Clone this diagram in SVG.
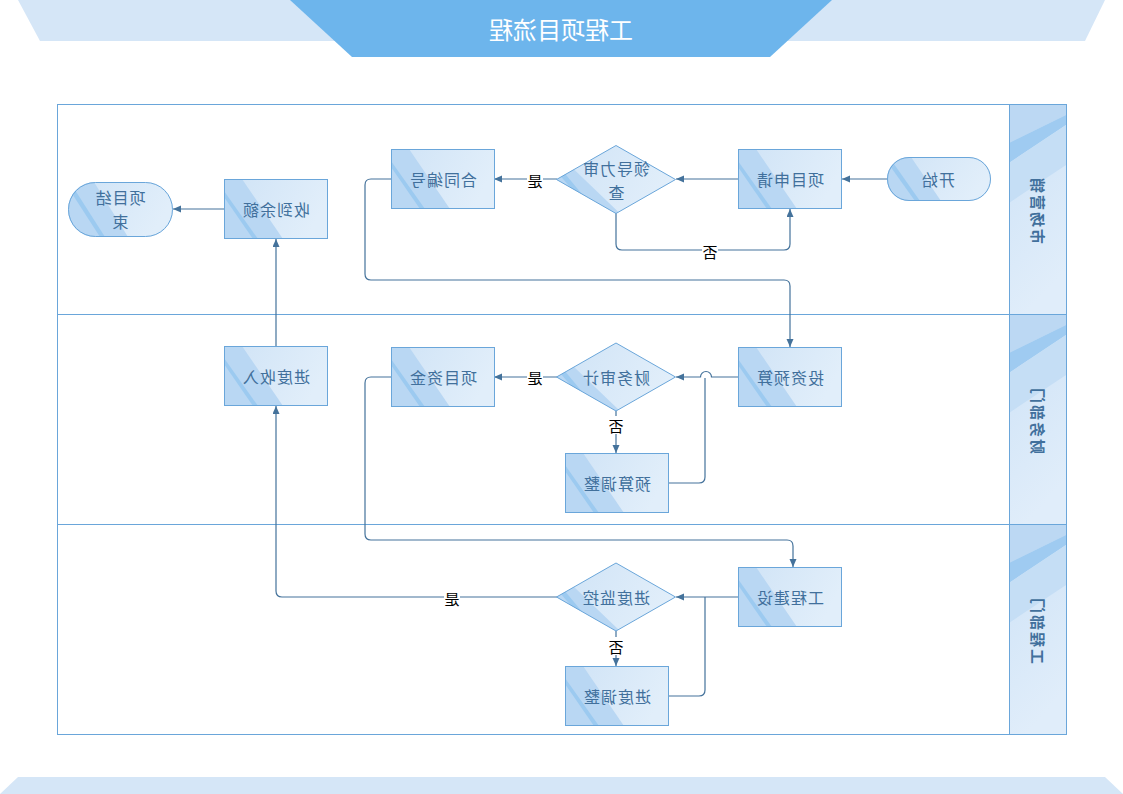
<svg xmlns="http://www.w3.org/2000/svg" xmlns:xlink="http://www.w3.org/1999/xlink" width="1123" height="794" viewBox="0 0 1123 794">
<style>
.lbl{font-family:"Noto Sans CJK SC","Noto Sans",sans-serif;font-size:16px;fill:#41709c;text-anchor:middle;dominant-baseline:central;letter-spacing:1px}
.lane{font-family:"Noto Sans CJK SC","Noto Sans",sans-serif;font-size:15px;font-weight:bold;fill:#41709c;text-anchor:middle;dominant-baseline:central;letter-spacing:2px}
.yn{font-family:"Noto Sans CJK SC","Noto Sans",sans-serif;font-size:15px;fill:#000;text-anchor:middle;dominant-baseline:central}
.title{font-family:"Noto Sans CJK SC","Noto Sans",sans-serif;font-size:24px;fill:#fff;text-anchor:middle;dominant-baseline:central}
.conn{fill:none;stroke:#44729b;stroke-width:1.2}
.bg{fill:#fff}
</style>
<defs>
<linearGradient id="gLight" x1="0" y1="0" x2="1" y2="0.3">
<stop offset="0" stop-color="#cfe3f6"/><stop offset="1" stop-color="#e1eefa"/>
</linearGradient>
<linearGradient id="gLane" x1="0" y1="0" x2="0.3" y2="1">
<stop offset="0" stop-color="#cde2f6"/><stop offset="1" stop-color="#e0edfa"/>
</linearGradient>
<marker id="arr" markerWidth="9" markerHeight="8" refX="8" refY="3.5" orient="auto" markerUnits="userSpaceOnUse">
<path d="M0,0 L8,3.5 L0,7 z" fill="#44729b"/>
</marker>
<clipPath id="cDia"><polygon points="-59.5,0 0,-34 59.5,0 0,34"/></clipPath>
<clipPath id="cTerm"><rect x="0" y="0" width="104" height="44" rx="22"/></clipPath>
<clipPath id="cTerm2"><rect x="0" y="0" width="105" height="55" rx="27.5"/></clipPath>
<g id="rn">
<rect width="104" height="60" fill="url(#gLight)"/>
<polygon points="0,0 18,0 59,60 0,60" fill="#b9d7f3"/>
<polygon points="0,12 0,18 29,60 34,60" fill="#9ccaf0"/>
<rect x="0.5" y="0.5" width="103" height="59" fill="none" stroke="#6aa6da"/>
</g>
<g id="dn">
<g clip-path="url(#cDia)">
<rect x="-60" y="-35" width="120" height="70" fill="url(#gLight)"/>
<polygon points="-60,-2 -44,-12 4,34 -60,34" fill="#b9d7f3"/>
<polygon points="-56,-4 -52,-7 -18,34 -23,34" fill="#9ccaf0"/>
</g>
<polygon points="-59.5,0 0,-34 59.5,0 0,34" fill="none" stroke="#6aa6da"/>
</g>
<g id="tn">
<g clip-path="url(#cTerm)">
<rect width="104" height="44" fill="url(#gLight)"/>
<polygon points="0,0 24,0 54,44 0,44" fill="#b9d7f3"/>
<polygon points="3,9 7,7 33,44 28,44" fill="#9ccaf0"/>
</g>
<rect x="0.5" y="0.5" width="103" height="43" rx="21.5" fill="none" stroke="#6aa6da"/>
</g>
<g id="tn2">
<g clip-path="url(#cTerm2)">
<rect width="105" height="55" fill="url(#gLight)"/>
<polygon points="0,0 26,0 60,55 0,55" fill="#b9d7f3"/>
<polygon points="3,10 7,8 37,55 32,55" fill="#9ccaf0"/>
</g>
<rect x="0.5" y="0.5" width="104" height="54" rx="27" fill="none" stroke="#6aa6da"/>
</g>
<g id="lh">
<rect width="57" height="210" fill="url(#gLane)"/>
<polygon points="0,0 57,0 57,11 0,39" fill="#bcd8f3"/>
<polygon points="0,39 57,11 57,21 0,59" fill="#9fcbf1"/>
<polygon points="0,59 57,21 57,61 0,99" fill="#c5def5"/>
</g>
</defs>

<!-- header / footer bands -->
<g id="header">
<polygon points="18,0 1105,0 1085,41 40,41" fill="#d5e6f7"/>
<polygon points="290,0 832,0 770,57 352,57" fill="#6db5ec"/>
<text class="title" x="-561" y="28" transform="scale(-1,1)">工程项目流程</text>
</g>
<g id="footer">
<polygon points="18,777 1105,777 1123,794 0,794" fill="#d5e6f7"/>
</g>

<!-- swimlanes -->
<g id="lanes">
<use href="#lh" x="1009" y="104"/>
<use href="#lh" x="1009" y="314"/>
<use href="#lh" x="1009" y="524"/>
<rect x="57.5" y="104.5" width="1009" height="630" fill="none" stroke="#6aa6da"/>
<line x1="57" y1="314.5" x2="1066" y2="314.5" stroke="#6aa6da"/>
<line x1="57" y1="524.5" x2="1066" y2="524.5" stroke="#6aa6da"/>
<line x1="1009.5" y1="104" x2="1009.5" y2="734" stroke="#6aa6da"/>
<text class="lane" transform="translate(1038,210) scale(-1,1) rotate(-90)">市场营销</text>
<text class="lane" transform="translate(1038,420) scale(-1,1) rotate(-90)">财务部门</text>
<text class="lane" transform="translate(1038,630) scale(-1,1) rotate(-90)">工程部门</text>
</g>

<!-- connectors -->
<g id="connectors">
<path class="conn" d="M887,179 H842" marker-end="url(#arr)"/>
<path class="conn" d="M738,179 H676" marker-end="url(#arr)"/>
<path class="conn" d="M557,179 H494" marker-end="url(#arr)"/>
<path class="conn" d="M616,213 V244 Q616,250 622,250 H784 Q790,250 790,244 V209" marker-end="url(#arr)"/>
<path class="conn" d="M391,179 H371 Q365,179 365,185 V274 Q365,280 371,280 H784 Q790,280 790,286 V347" marker-end="url(#arr)"/>
<path class="conn" d="M224,209 H173" marker-end="url(#arr)"/>
<path class="conn" d="M276,346 V239" marker-end="url(#arr)"/>
<path class="conn" d="M738,377 H711.5 A5.5,5.5 0 0 0 700.5,377 H676" marker-end="url(#arr)"/>
<path class="conn" d="M557,377 H494" marker-end="url(#arr)"/>
<path class="conn" d="M616,407 V453" marker-end="url(#arr)"/>
<path class="conn" d="M668,483 H699 Q705,483 705,477 V378"/>
<path class="conn" d="M391,377 H371 Q365,377 365,383 V534 Q365,540 371,540 H787 Q793,540 793,546 V567" marker-end="url(#arr)"/>
<path class="conn" d="M738,597 H676" marker-end="url(#arr)"/>
<path class="conn" d="M557,597 H282 Q276,597 276,591 V406" marker-end="url(#arr)"/>
<path class="conn" d="M616,627 V666" marker-end="url(#arr)"/>
<path class="conn" d="M668,696 H699 Q705,696 705,690 V597"/>
<rect class="bg" x="527" y="171" width="16" height="18"/>
<text class="yn" x="-535" y="180" transform="scale(-1,1)">是</text>
<rect class="bg" x="702" y="242" width="16" height="18"/>
<text class="yn" x="-710" y="251" transform="scale(-1,1)">否</text>
<rect class="bg" x="527" y="368" width="16" height="18"/>
<text class="yn" x="-535" y="377" transform="scale(-1,1)">是</text>
<rect class="bg" x="608" y="416" width="16" height="18"/>
<text class="yn" x="-616" y="425" transform="scale(-1,1)">否</text>
<rect class="bg" x="444" y="589" width="16" height="18"/>
<text class="yn" x="-452" y="598" transform="scale(-1,1)">是</text>
<rect class="bg" x="608" y="637" width="16" height="18"/>
<text class="yn" x="-616" y="646" transform="scale(-1,1)">否</text>
</g>

<!-- nodes -->
<g id="n-start"><use href="#tn" x="887" y="157"/><text class="lbl" x="-938" y="179" transform="scale(-1,1)">开始</text></g>
<g id="n-apply"><use href="#rn" x="738" y="149"/><text class="lbl" x="-790" y="179" transform="scale(-1,1)">项目申请</text></g>
<g id="n-review"><use href="#dn" x="616" y="179.5"/><text class="lbl" transform="scale(-1,1)"><tspan x="-616" y="168">领导力审</tspan><tspan x="-616" y="192">查</tspan></text></g>
<g id="n-contract"><use href="#rn" x="391" y="149"/><text class="lbl" x="-443" y="179" transform="scale(-1,1)">合同编号</text></g>
<g id="n-balance"><use href="#rn" x="224" y="179"/><text class="lbl" x="-276" y="209" transform="scale(-1,1)">收到余额</text></g>
<g id="n-end"><use href="#tn2" x="68" y="182"/><text class="lbl" transform="scale(-1,1)"><tspan x="-120" y="197">项目结</tspan><tspan x="-120" y="221">束</tspan></text></g>
<g id="n-budget"><use href="#rn" x="738" y="347"/><text class="lbl" x="-790" y="377" transform="scale(-1,1)">投资预算</text></g>
<g id="n-audit"><use href="#dn" x="616" y="377"/><text class="lbl" x="-616" y="377" transform="scale(-1,1)">财务审计</text></g>
<g id="n-funds"><use href="#rn" x="391" y="347"/><text class="lbl" x="-443" y="377" transform="scale(-1,1)">项目资金</text></g>
<g id="n-income"><use href="#rn" x="224" y="346"/><text class="lbl" x="-276" y="376" transform="scale(-1,1)">进度收入</text></g>
<g id="n-badj"><use href="#rn" x="565" y="453"/><text class="lbl" x="-617" y="483" transform="scale(-1,1)">预算调整</text></g>
<g id="n-build"><use href="#rn" x="738" y="567"/><text class="lbl" x="-790" y="597" transform="scale(-1,1)">工程建设</text></g>
<g id="n-monitor"><use href="#dn" x="616" y="597"/><text class="lbl" x="-616" y="597" transform="scale(-1,1)">进度监控</text></g>
<g id="n-padj"><use href="#rn" x="565" y="666"/><text class="lbl" x="-617" y="696" transform="scale(-1,1)">进度调整</text></g>
</svg>
